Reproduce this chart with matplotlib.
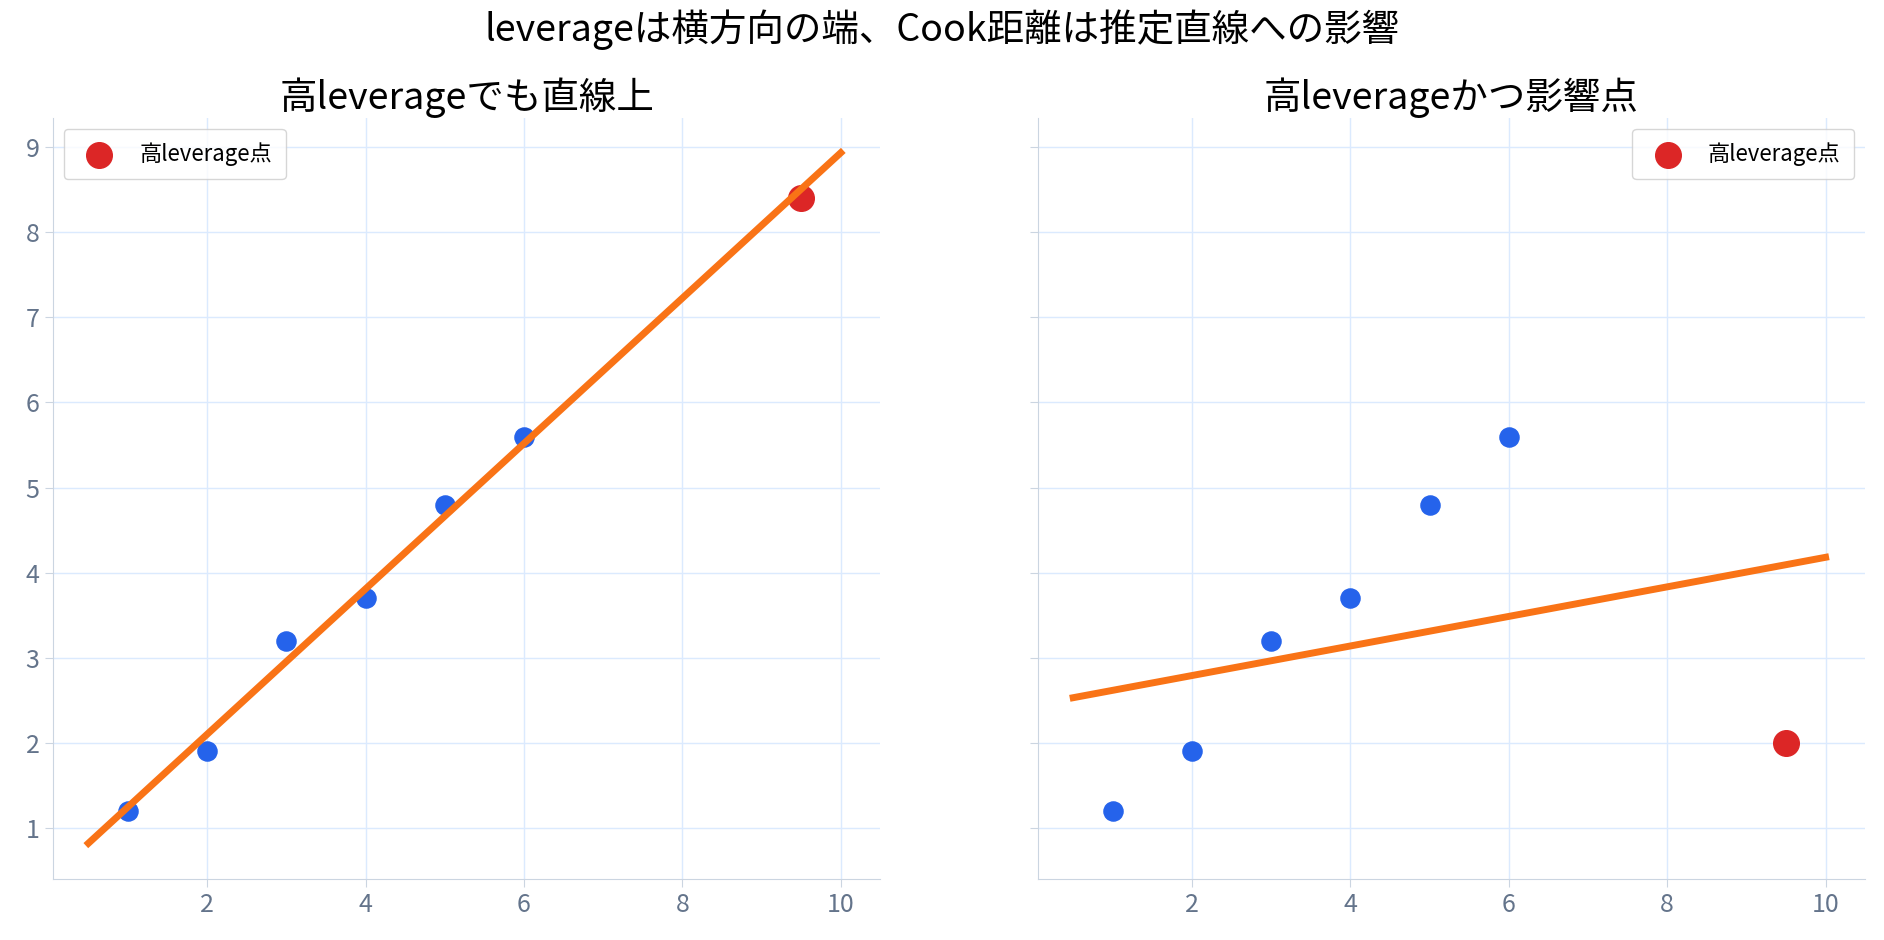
import numpy as np
import matplotlib
matplotlib.use("Agg")
import matplotlib.pyplot as plt

plt.rcParams['font.family'] = ['Noto Sans CJK JP', 'DejaVu Sans']

x_base = [1, 2, 3, 4, 5, 6]
y_base = [1.2, 1.9, 3.2, 3.7, 4.8, 5.6]
hi_x = 9.5
hi_y_left = 8.4
hi_y_right = 2.0
titles = ["高leverageでも直線上", "高leverageかつ影響点"]
suptitle = "leverageは横方向の端、Cook距離は推定直線への影響"

fig, axes = plt.subplots(1, 2, figsize=(18.84, 9.4), dpi=100, sharey=True)
for ax, hy, t, loc in zip(axes, [hi_y_left, hi_y_right], titles, ["upper left", "upper right"]):
    xs = np.array(x_base + [hi_x]); ys = np.array(y_base + [hy])
    b, a = np.polyfit(xs, ys, 1)
    xl = np.array([0.5, 10])
    ax.scatter(x_base, y_base, s=190, color="#2563eb", zorder=3)
    ax.scatter([hi_x], [hy], s=340, color="#dc2626", zorder=3, label="高leverage点")
    ax.plot(xl, a + b * xl, color="#f97316", lw=5, zorder=4)
    ax.set_title(t, fontsize=27)
    ax.grid(True, color="#dbeafe", lw=1)
    ax.set_axisbelow(True)
    for s in ["top", "right"]:
        ax.spines[s].set_visible(False)
    for s in ["left", "bottom"]:
        ax.spines[s].set_color("#cbd5e1")
    ax.tick_params(colors="#cbd5e1", labelcolor="#64748b", labelsize=18, length=6)
    ax.set_xticks([2, 4, 6, 8, 10])
    ax.set_yticks(range(1, 10))
    ax.set_xlim(0.05, 10.5)
    ax.set_ylim(0.4, 9.35)
    ax.legend(loc=loc, fontsize=16, borderpad=0.6)
fig.suptitle(suptitle, fontsize=27, y=0.99)
fig.subplots_adjust(left=0.028, right=0.99, top=0.875, bottom=0.065, wspace=0.19)
fig.savefig("out.png")
